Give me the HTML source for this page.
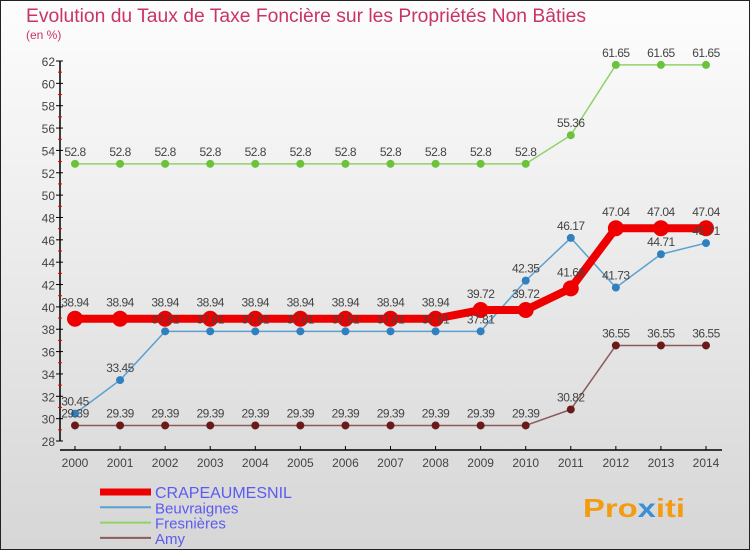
<!DOCTYPE html>
<html><head><meta charset="utf-8"><style>
body{margin:0;width:750px;height:550px;overflow:hidden;font-family:"Liberation Sans",sans-serif}
svg{display:block}
</style></head><body>
<svg id="c" width="750" height="550" xmlns="http://www.w3.org/2000/svg">
<defs><linearGradient id="bg" x1="0" y1="0" x2="0" y2="1"><stop offset="0" stop-color="#fdfdfd"/><stop offset="1" stop-color="#d6d6d6"/></linearGradient></defs>
<rect x="0.5" y="0.5" width="749" height="549" fill="url(#bg)" stroke="#222"/>
<text x="26" y="22" font-size="19" fill="#c8336a" textLength="560" lengthAdjust="spacingAndGlyphs">Evolution du Taux de Taxe Foncière sur les Propriétés Non Bâties</text>
<text x="26" y="39" font-size="12" fill="#c8336a">(en %)</text>
<g id="axes"></g><g id="series"></g><g id="legend"></g>
<text x="583" y="517" font-size="26" font-weight="bold" fill="#f39c12" textLength="102" lengthAdjust="spacingAndGlyphs">Pro<tspan fill="#3b8fd6">x</tspan>iti</text>
</svg>
<script>
const years=[2000,2001,2002,2003,2004,2005,2006,2007,2008,2009,2010,2011,2012,2013,2014];
const yTicks=[28,30,32,34,36,38,40,42,44,46,48,50,52,54,56,58,60,62];
const seriesNames=["CRAPEAUMESNIL","Beuvraignes","Fresnières","Amy"];
const crapeaumesnil=[38.94,38.94,38.94,38.94,38.94,38.94,38.94,38.94,38.94,39.72,39.72,41.66,47.04,47.04,47.04];
const beuvraignes=[30.45,33.45,37.81,37.81,37.81,37.81,37.81,37.81,37.81,37.81,42.35,46.17,41.73,44.71,45.71];
const fresnieres=[52.8,52.8,52.8,52.8,52.8,52.8,52.8,52.8,52.8,52.8,52.8,55.36,61.65,61.65,61.65];
const amy=[29.39,29.39,29.39,29.39,29.39,29.39,29.39,29.39,29.39,29.39,29.39,30.82,36.55,36.55,36.55];
const NS="http://www.w3.org/2000/svg";
const x=i=>75+(706-75)*i/(years.length-1);
const y=v=>441-(v-28)*(441-61)/(62-28);
function mk(t,a,p){const e=document.createElementNS(NS,t);for(const k in a)e.setAttribute(k,a[k]);p.appendChild(e);return e;}
const ax=document.getElementById('axes');
let l=mk('line',{x1:60,y1:y(62),x2:60,y2:y(28),stroke:'#000','stroke-width':1.5},ax);


for(let v=29;v<62;v+=2){mk('line',{x1:58,x2:62,y1:y(v),y2:y(v),stroke:'#e00'},ax);}
yTicks.forEach(v=>{mk('line',{x1:56,x2:63,y1:y(v),y2:y(v),stroke:'#000'},ax);
const t=mk('text',{x:55,y:y(v)+5,'font-size':12,'text-anchor':'end',fill:'#444'},ax);t.textContent=v;

});
l=mk('line',{x1:60,y1:450,x2:722,y2:450,stroke:'#000','stroke-width':1.5},ax);


years.forEach((yr,i)=>{mk('line',{x1:x(i),x2:x(i),y1:446,y2:450,stroke:'#000'},ax);
const t=mk('text',{x:x(i),y:467,'font-size':12,'text-anchor':'middle',fill:'#444'},ax);t.textContent=yr;

});
const S=document.getElementById('series');
const defs=[[amy,'#8b5a5a','#6b1a1a',1.5,4,'amy'],[fresnieres,'#8fd36a','#6cc23a',1.5,4,'fresnieres'],[beuvraignes,'#5aa0d0','#2f80c0',1.5,4,'beuvraignes'],[crapeaumesnil,'#ee0000','#ee0000',8,8,'crapeaumesnil']];
const labelOrder=[];
defs.forEach(([d,lc,pc,w,r,n])=>{
const g=mk('g',{},S);


const p=mk('polyline',{points:d.map((v,i)=>x(i)+','+y(v)).join(' '),fill:'none',stroke:lc,'stroke-width':w,'stroke-linejoin':'round'},g);


d.forEach((v,i)=>{const c=mk('circle',{cx:x(i),cy:y(v),r:r,fill:pc},g);


labelOrder.push([x(i),y(v)-(r+4),v]);});
});
labelOrder.forEach(([lx,ly,v])=>{const t=mk('text',{x:lx,y:ly,'font-size':12,'text-anchor':'middle',fill:'#444','letter-spacing':'-0.5'},S);t.textContent=v;

});
const L=document.getElementById('legend');
const lc=['#ee0000','#5aa0d0','#8fd36a','#8b5a5a'],lw=[7,2,2,2];
seriesNames.forEach((n,i)=>{const yy=492+i*15.3;
const g=mk('g',{},L);


mk('line',{x1:100,x2:151,y1:yy,y2:yy,stroke:lc[i],'stroke-width':lw[i]},g);
const t=mk('text',{x:155,y:yy+6,'font-size':i==0?16:15,fill:'#5b5bf0'},g);t.textContent=n;});
</script>
</body></html>
